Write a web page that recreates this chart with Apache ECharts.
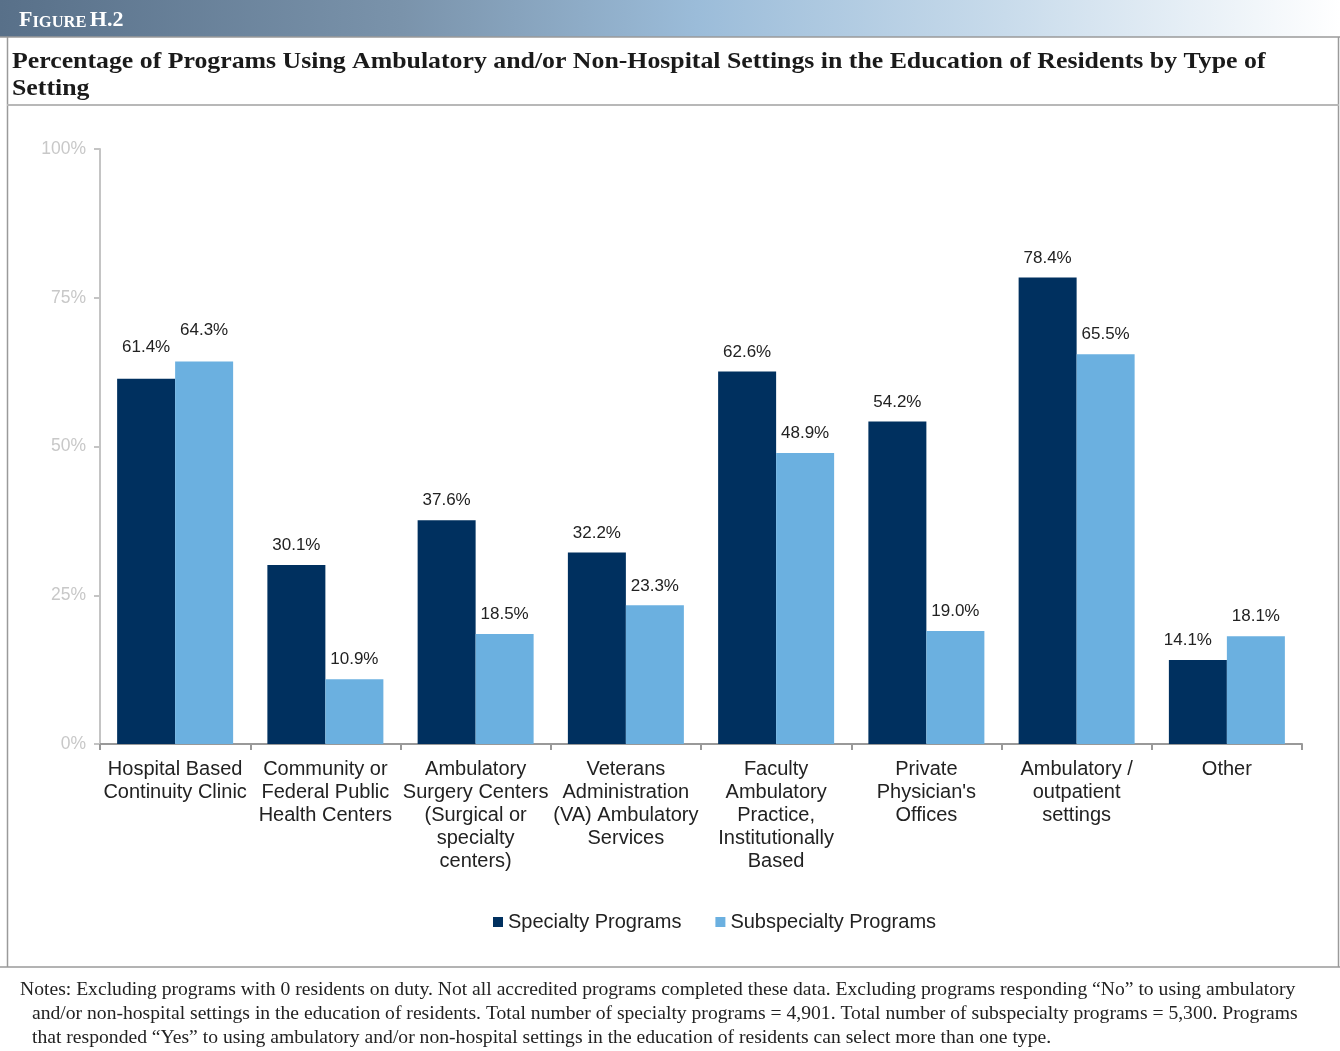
<!DOCTYPE html>
<html>
<head>
<meta charset="utf-8">
<script src="https://cdn.jsdelivr.net/npm/echarts@6/dist/echarts.min.js"></script>
<style>
html,body{margin:0;padding:0;background:#fff;}
#chart{width:1340px;height:1051px;}
</style>
</head>
<body>
<div id="chart"></div>
<script>
const categories = [
  'Hospital Based\nContinuity Clinic',
  'Community or\nFederal Public\nHealth Centers',
  'Ambulatory\nSurgery Centers\n(Surgical or\nspecialty\ncenters)',
  'Veterans\nAdministration\n(VA) Ambulatory\nServices',
  'Faculty\nAmbulatory\nPractice,\nInstitutionally\nBased',
  'Private\nPhysician\'s\nOffices',
  'Ambulatory /\noutpatient\nsettings',
  'Other'
];
const specialty = [61.4, 30.1, 37.6, 32.2, 62.6, 54.2, 78.4, 14.1];
const subspecialty = [64.3, 10.9, 18.5, 23.3, 48.9, 19.0, 65.5, 18.1];
const yTicks = [0, 25, 50, 75, 100];
const seriesNames = ['Specialty Programs', 'Subspecialty Programs'];
const figureLabel = 'H.2';
const titleText = 'Percentage of Programs Using Ambulatory and/or Non-Hospital Settings in the Education of Residents by Type of\nSetting';
const notesLines = [
  'Notes: Excluding programs with 0 residents on duty. Not all accredited programs completed these data. Excluding programs responding \u201cNo\u201d to using ambulatory',
  'and/or non-hospital settings in the education of residents. Total number of specialty programs = 4,901. Total number of subspecialty programs = 5,300. Programs',
  'that responded \u201cYes\u201d to using ambulatory and/or non-hospital settings in the education of residents can select more than one type.'
];

const DARK = '#00305f';
const LIGHT = '#6bb0e0';

function makeData(vals, sIdx) {
  return vals.map((v, i) => {
    const item = { value: v };
    if (i === 0) item.label = { distance: 23 };
    if (sIdx === 0 && i === 7) item.label = { offset: [-10, 0] };
    return item;
  });
}

const chart = echarts.init(document.getElementById('chart'), null, { renderer: 'canvas' });
const serif = '"Liberation Serif", "DejaVu Serif", serif';
const sans = '"Liberation Sans", Arial, sans-serif';

const option = {
  backgroundColor: '#ffffff',
  animation: false,
  grid: { left: 100, right: 38, top: 149, bottom: 307, containLabel: false },
  legend: {
    data: seriesNames,
    left: 488,
    top: 907,
    itemWidth: 10,
    itemHeight: 10,
    itemGap: 34,
    icon: 'rect',
    textStyle: { fontFamily: sans, fontSize: 20, color: '#222' }
  },
  xAxis: {
    type: 'category',
    data: categories,
    axisLine: { lineStyle: { color: '#999', width: 2 } },
    axisTick: { show: true, length: 6, lineStyle: { color: '#999', width: 2 }, alignWithLabel: false },
    axisLabel: { interval: 0, fontFamily: sans, fontSize: 20, color: '#222', lineHeight: 23, margin: 14 }
  },
  yAxis: {
    type: 'value',
    min: yTicks[0],
    max: yTicks[yTicks.length - 1],
    interval: 25,
    axisLine: { show: true, lineStyle: { color: '#c4c4c4', width: 2 } },
    axisTick: { show: true, length: 6, lineStyle: { color: '#c4c4c4', width: 2 } },
    splitLine: { show: false },
    axisLabel: { fontFamily: sans, fontSize: 17.5, color: '#c8c8c8', margin: 14, formatter: v => v + '%' }
  },
  series: [
    {
      name: seriesNames[0], type: 'bar', barWidth: 58, barGap: '0%',
      itemStyle: { color: DARK },
      label: { show: true, position: 'top', distance: 11, fontFamily: sans, fontSize: 17, color: '#222', formatter: p => p.value.toFixed(1) + '%' },
      data: makeData(specialty, 0)
    },
    {
      name: seriesNames[1], type: 'bar', barWidth: 58, barGap: '0%',
      itemStyle: { color: LIGHT },
      label: { show: true, position: 'top', distance: 11, fontFamily: sans, fontSize: 17, color: '#222', formatter: p => p.value.toFixed(1) + '%' },
      data: makeData(subspecialty, 1)
    }
  ],
  graphic: [
    {
      type: 'rect', left: 0, top: 0, silent: true,
      shape: { x: 0, y: 0, width: 1340, height: 37 },
      style: {
        fill: new echarts.graphic.LinearGradient(0, 0, 1, 0, [
          { offset: 0, color: '#587089' },
          { offset: 0.3, color: '#7a93ab' },
          { offset: 0.52, color: '#9bbcd9' },
          { offset: 0.75, color: '#c8dbeb' },
          { offset: 1, color: '#ffffff' }
        ])
      }
    },
    {
      type: 'text', x: 19, y: 31, silent: true,
      style: {
        x: 0, y: 0, verticalAlign: 'bottom',
        text: '{b|F}{s|IGURE} {b|' + figureLabel + '}',
        rich: {
          b: { fontFamily: serif, fontWeight: 'bold', fontSize: 22, fill: '#ffffff', verticalAlign: 'bottom' },
          s: { fontFamily: serif, fontWeight: 'bold', fontSize: 16.5, fill: '#ffffff', verticalAlign: 'bottom' }
        }
      }
    },
    { type: 'line', silent: true, shape: { x1: 0, y1: 37, x2: 1340, y2: 37 }, style: { stroke: '#9a9a9a', lineWidth: 1.5 } },
    { type: 'line', silent: true, shape: { x1: 7.5, y1: 37, x2: 7.5, y2: 967 }, style: { stroke: '#9a9a9a', lineWidth: 1.5 } },
    { type: 'line', silent: true, shape: { x1: 1338.5, y1: 37, x2: 1338.5, y2: 967 }, style: { stroke: '#9a9a9a', lineWidth: 1.5 } },
    { type: 'line', silent: true, shape: { x1: 7, y1: 105, x2: 1339, y2: 105 }, style: { stroke: '#b8b8b8', lineWidth: 2 } },
    { type: 'line', silent: true, shape: { x1: 0, y1: 967, x2: 1340, y2: 967 }, style: { stroke: '#9a9a9a', lineWidth: 1.5 } },
    {
      type: 'text', x: 12, y: 48, scaleX: 1.075, silent: true,
      style: { x: 0, y: 0, verticalAlign: 'top', text: titleText, fontFamily: serif, fontWeight: 'bold', fontSize: 24, lineHeight: 27, fill: '#1a1a1a' }
    },
    {
      type: 'text', x: 20, y: 978, scaleX: 1.09, silent: true,
      style: { x: 0, y: 0, verticalAlign: 'top', text: notesLines[0], fontFamily: serif, fontSize: 18, lineHeight: 24, fill: '#222' }
    },
    {
      type: 'text', x: 32, y: 1002, scaleX: 1.09, silent: true,
      style: { x: 0, y: 0, verticalAlign: 'top', text: notesLines[1] + '\n' + notesLines[2], fontFamily: serif, fontSize: 18, lineHeight: 24, fill: '#222' }
    }
  ]
};
chart.setOption(option);
</script>
</body>
</html>
